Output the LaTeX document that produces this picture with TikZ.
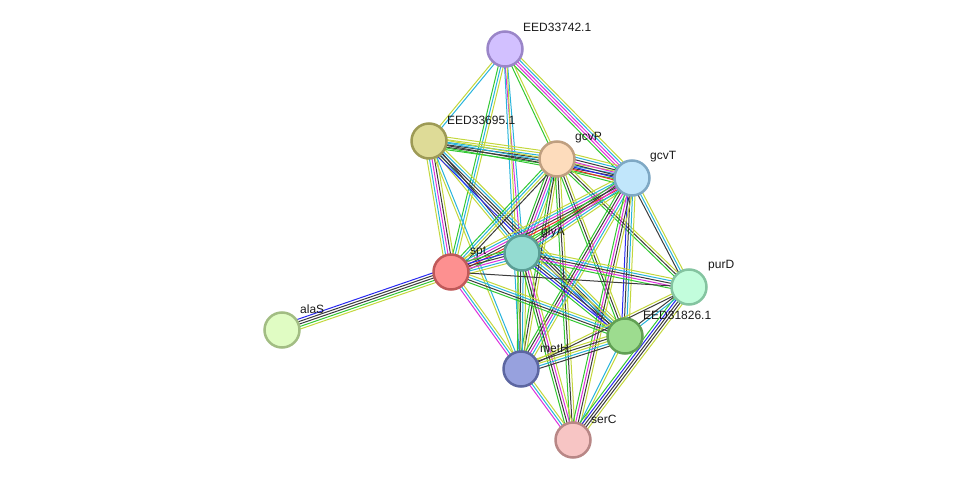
\documentclass[tikz,border=0pt]{standalone}
\usepackage{fontspec}
\setmainfont{Liberation Sans}
\usetikzlibrary{calc,backgrounds}
\definecolor{eG}{RGB}{50,200,50}
\definecolor{eC}{RGB}{40,180,220}
\definecolor{eY}{RGB}{195,215,60}
\definecolor{eK}{RGB}{60,60,60}
\definecolor{eM}{RGB}{220,50,220}
\definecolor{eB}{RGB}{40,40,240}
\definecolor{eR}{RGB}{240,40,40}
\newcommand\sedge[3]{%
  \foreach \col [count=\i] in {#3} {\xdef\ncount{\i}}%
  \foreach \col [count=\i] in {#3} {%
    \pgfmathsetmacro\off{(\i-(\ncount+1)/2)*2.5}%
    \draw[edgeline, color=\col] ($(#1.center)!\off pt!90:(#2.center)$) -- ($(#2.center)!\off pt!-90:(#1.center)$);
  }}
\tikzset{
  pnode/.style={circle, minimum size=35pt, inner sep=0pt, line width=2.5pt},
  edgeline/.style={line width=1pt},
  plabel/.style={anchor=west, inner sep=0pt, font=\fontsize{12}{14}\selectfont, text=black!90}
}
\begin{document}
\begin{tikzpicture}[x=1pt,y=-1pt]
\useasboundingbox (0,0) rectangle (976,486);
% nodes
\node[pnode, fill={rgb,255:red,210;green,192;blue,255}, draw={rgb,255:red,154;green,133;blue,200}] (A) at (505,49) {};
\node[pnode, fill={rgb,255:red,222;green,219;blue,151}, draw={rgb,255:red,157;green,154;blue,85}] (B) at (429,141) {};
\node[pnode, fill={rgb,255:red,253;green,220;blue,188}, draw={rgb,255:red,191;green,159;blue,128}] (gcvP) at (557,159) {};
\node[pnode, fill={rgb,255:red,193;green,230;blue,251}, draw={rgb,255:red,126;green,168;blue,196}] (gcvT) at (632,178) {};
\node[pnode, fill={rgb,255:red,147;green,219;blue,209}, draw={rgb,255:red,90;green,158;blue,149}] (glyA) at (522,253) {};
\node[pnode, fill={rgb,255:red,253;green,144;blue,144}, draw={rgb,255:red,192;green,89;blue,89}] (spt) at (451,272) {};
\node[pnode, fill={rgb,255:red,194;green,253;blue,220}, draw={rgb,255:red,132;green,196;blue,160}] (purD) at (689,287) {};
\node[pnode, fill={rgb,255:red,157;green,220;blue,143}, draw={rgb,255:red,97;green,160;blue,84}] (E) at (625,336) {};
\node[pnode, fill={rgb,255:red,224;green,252;blue,195}, draw={rgb,255:red,162;green,189;blue,131}] (alaS) at (282,330) {};
\node[pnode, fill={rgb,255:red,151;green,161;blue,222}, draw={rgb,255:red,92;green,102;blue,161}] (metH) at (521,369) {};
\node[pnode, fill={rgb,255:red,247;green,197;blue,196}, draw={rgb,255:red,184;green,135;blue,134}] (serC) at (573,440) {};
% labels
\node[plabel] (lA) at (523,27) {EED33742.1};
\node[plabel] (lB) at (447,120) {EED33695.1};
\node[plabel] (lgcvP) at (575,138) {gcvP};
\node[plabel] (lgcvT) at (650,157) {gcvT};
\node[plabel] (lglyA) at (541,232) {glyA};
\node[plabel] (lspt) at (470,252) {spt};
\node[plabel] (lpurD) at (708,266) {purD};
\node[plabel] (lE) at (643,315) {EED31826.1};
\node[plabel] (lalaS) at (300,309) {alaS};
\node[plabel] (lmetH) at (540,348) {metH};
\node[plabel] (lserC) at (591,419) {serC};
% edges
\begin{scope}[on background layer]
\sedge{A}{B}{eY,eC}
\sedge{A}{spt}{eG,eC,eY}
\sedge{A}{gcvP}{eG,eY}
\sedge{A}{gcvT}{eG,eM,eM,eC,eY}
\sedge{A}{glyA}{eM,eC}
\sedge{A}{metH}{eC,eY}
\sedge{B}{gcvP}{eG,eK,eK,eC,eY,eY}
\sedge{B}{gcvT}{eG,eK,eC,eY}
\sedge{B}{spt}{eY,eC,eM,eK,eY}
\sedge{B}{glyA}{eY,eC,eK}
\sedge{B}{E}{eB,eK,eK,eC,eY}
\sedge{B}{metH}{eY,eC}
\sedge{gcvP}{gcvT}{eG,eR,eB,eK,eM,eK,eC,eY}
\sedge{gcvP}{glyA}{eG,eK,eM,eC,eY}
\sedge{gcvP}{spt}{eG,eC,eY,eK}
\sedge{gcvP}{metH}{eG,eK,eY}
\sedge{gcvP}{serC}{eG,eK,eY}
\sedge{gcvP}{E}{eG,eK,eY}
\sedge{gcvP}{purD}{eG,eK,eY}
\sedge{spt}{gcvT}{eG,eR,eK,eM,eC,eY}
\sedge{gcvT}{glyA}{eG,eK,eM,eC,eY}
\sedge{gcvT}{purD}{eK,eC,eY}
\sedge{gcvT}{E}{eB,eK,eC,eY}
\sedge{gcvT}{metH}{eG,eK,eM,eC,eY}
\sedge{gcvT}{serC}{eG,eM,eK,eY}
\sedge{glyA}{spt}{eG,eB,eK,eM,eC,eY}
\sedge{glyA}{purD}{eG,eM,eK,eC,eY}
\sedge{glyA}{E}{eG,eB,eK,eC,eY}
\sedge{glyA}{metH}{eG,eK,eC,eY}
\sedge{glyA}{serC}{eG,eK,eM,eY}
\sedge{spt}{purD}{eK}
\sedge{spt}{E}{eG,eK,eC,eY}
\sedge{spt}{metH}{eM,eC,eY}
\sedge{spt}{alaS}{eB,eK,eK,eG,eY}
\sedge{metH}{E}{eK,eC,eY,eK,eY}
\sedge{metH}{serC}{eM,eC,eY}
\sedge{metH}{purD}{eK,eY}
\sedge{E}{serC}{eC,eY}
\sedge{purD}{serC}{eG,eB,eK,eK,eY}
\sedge{purD}{E}{eK,eC}
\end{scope}
\end{tikzpicture}
\end{document}
